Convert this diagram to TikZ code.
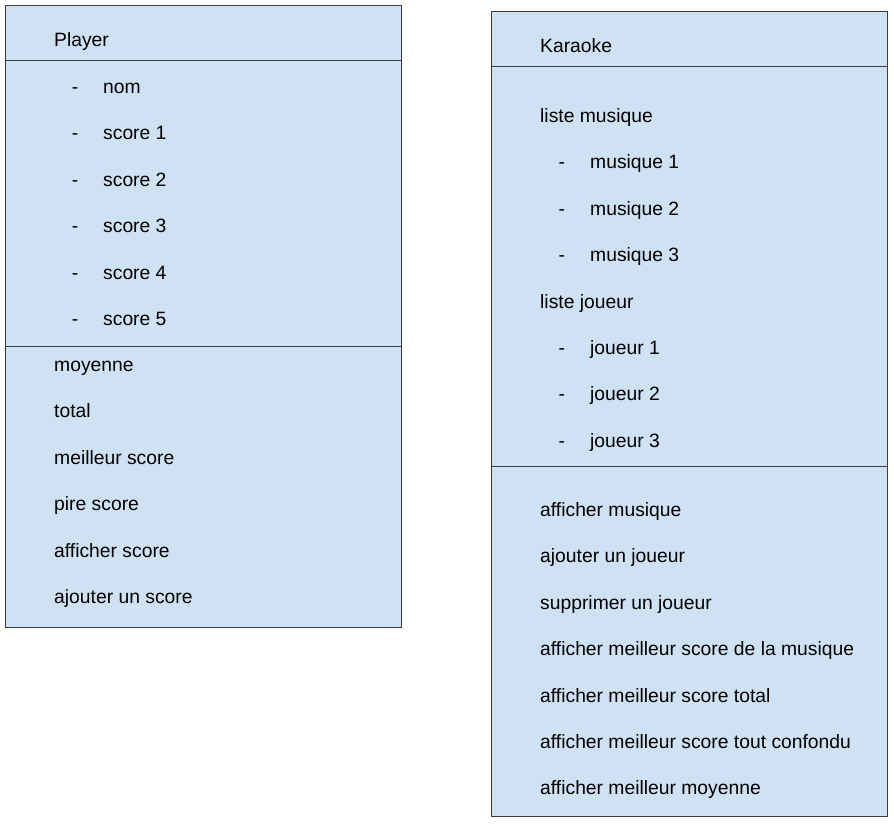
\documentclass[tikz,border=0pt]{standalone}
\usepackage{fontspec}
\setmainfont{Liberation Sans}
\usetikzlibrary{positioning}
\definecolor{boxblue}{HTML}{CFE2F3}
\definecolor{boxline}{HTML}{3C3C3C}

\begin{document}
\begin{tikzpicture}[x=1pt,y=-1pt,
  classbox/.style={fill=boxblue, draw=boxline, line width=1pt},
  divider/.style={draw=boxline, line width=1pt},
  entry/.style={anchor=base west, inner sep=0pt, font=\fontsize{19.3}{23}\selectfont}]
\useasboundingbox[fill=white] (0,0) rectangle (894,826);

% Player
\filldraw[classbox] (5,6) rectangle (401,627);
\draw[divider] (5,61)--(401,61);
\draw[divider] (5,346)--(401,346);
\node[entry] (player) at (54,46.5) {Player};
\foreach \i/\t in {0/nom,1/score 1,2/score 2,3/score 3,4/score 4,5/score 5}{
  \node[entry] (pdash\i) at (71.6,{93.5+46.4*\i}) {-};
  \node[entry] (pattr\i) at (103,{93.5+46.4*\i}) {\t};
}
\foreach \i/\t in {0/moyenne,1/total,2/meilleur score,3/pire score,4/afficher score,5/ajouter un score}
  \node[entry] (pmeth\i) at (54,{371.5+46.4*\i}) {\t};

% Karaoke
\filldraw[classbox] (491,12) rectangle (887,816);
\draw[divider] (491,67)--(887,67);
\draw[divider] (491,466)--(887,466);
\node[entry] (karaoke) at (540,52.5) {Karaoke};
\node[entry] (kmus) at (540,122.5) {liste musique};
\foreach \i in {1,2,3}{
  \node[entry] (kmdash\i) at (558.5,{122.5+46.4*\i}) {-};
  \node[entry] (kmus\i) at (590,{122.5+46.4*\i}) {musique \i};
}
\node[entry] (kjou) at (540,308.1) {liste joueur};
\foreach \i in {1,2,3}{
  \node[entry] (kjdash\i) at (558.5,{308.1+46.4*\i}) {-};
  \node[entry] (kjou\i) at (590,{308.1+46.4*\i}) {joueur \i};
}
\foreach \i/\t in {0/afficher musique,1/ajouter un joueur,2/supprimer un joueur,
  3/afficher meilleur score de la musique,4/afficher meilleur score total,
  5/afficher meilleur score tout confondu,6/afficher meilleur moyenne}
  \node[entry] (kmeth\i) at (540,{516.5+46.4*\i}) {\t};
\end{tikzpicture}
\end{document}
